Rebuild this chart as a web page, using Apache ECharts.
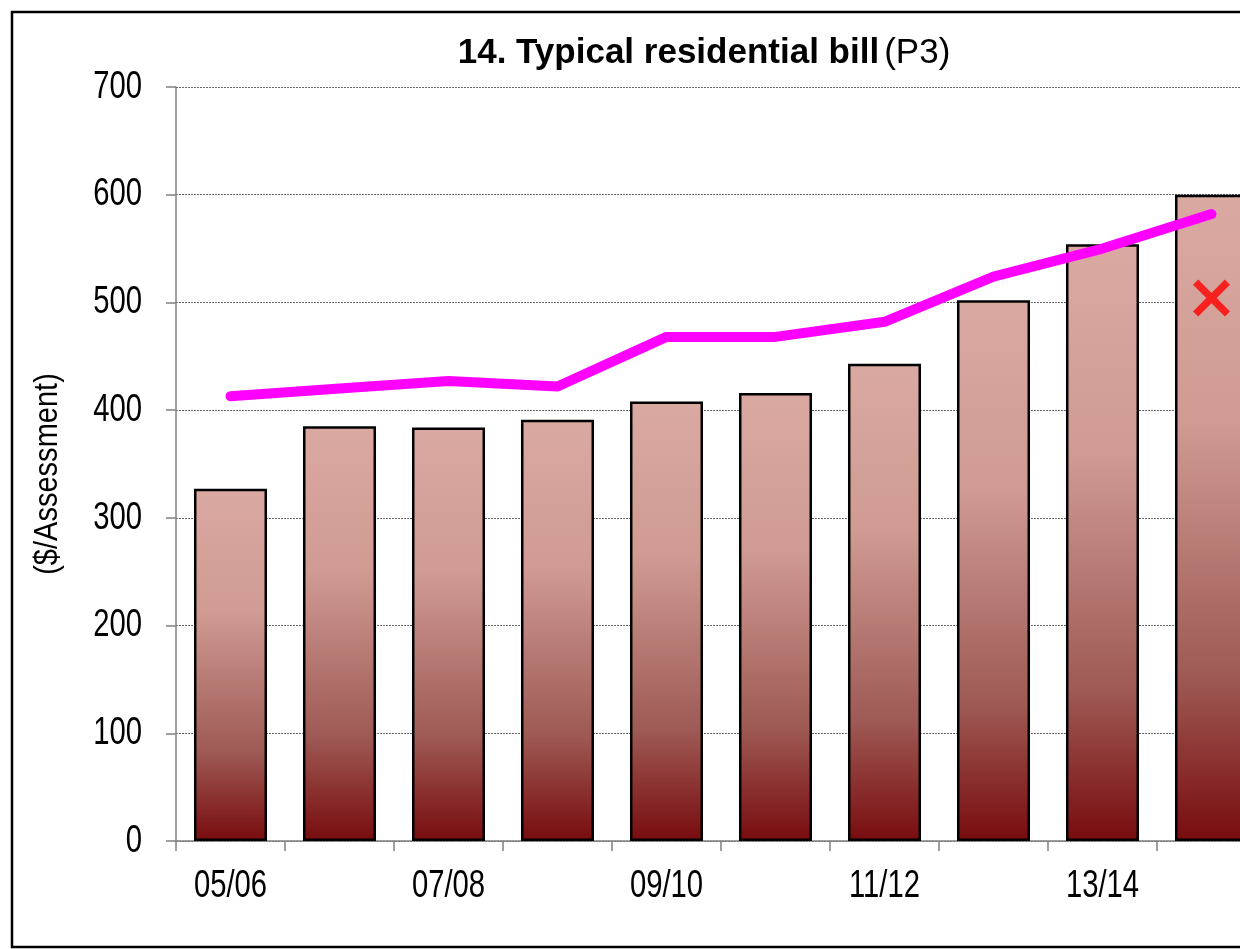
<!DOCTYPE html>
<html>
<head>
<meta charset="utf-8">
<script src="https://cdn.jsdelivr.net/npm/echarts@6/dist/echarts.min.js"></script>
<style>
  html, body { margin: 0; padding: 0; background: #ffffff; overflow: hidden; }
  #chart { width: 1266px; height: 949px; }
</style>
</head>
<body>
<div id="chart"></div>
<script>
// Financial years shown on the category axis
const years = ['05/06', '06/07', '07/08', '08/09', '09/10', '10/11', '11/12', '12/13', '13/14', '14/15'];
// Typical residential bill ($/Assessment)
const billValues = [327, 385, 384, 391, 408, 416, 443, 502, 554, 600];
// Comparison line
const lineValues = [413, 420, 427, 422, 468, 468, 482, 524, 550, 582];
// Single flagged value shown with a cross
const crossValues = [null, null, null, null, null, null, null, null, null, 504];
// Value axis ticks
const yTicks = { min: 0, max: 700, interval: 100 };
const yAxisName = '($/Assessment)';

const FONT = "'Liberation Sans', Arial, sans-serif";
// Narrow-face look: regular sans glyphs squeezed horizontally
const NARROW = 0.75;
const crossPath = 'path://M14,0 L50,36 L86,0 L100,14 L64,50 L100,86 L86,100 L50,64 L14,100 L0,86 L36,50 L0,14 Z';

const chart = echarts.init(document.getElementById('chart'), null, { renderer: 'canvas' });

chart.setOption({
  backgroundColor: '#ffffff',
  animation: false,
  title: {
    text: '{b|14. Typical residential bill} {n|(P3)}',
    left: 699,
    top: 31,
    textAlign: 'center',
    textStyle: {
      rich: {
        b: { fontFamily: FONT, fontSize: 35, fontWeight: 'bold', color: '#000' },
        n: { fontFamily: FONT, fontSize: 35, fontWeight: 'normal', color: '#000' }
      }
    }
  },
  grid: { left: 176, top: 87, bottom: 108, right: 0, containLabel: false },
  xAxis: {
    type: 'category',
    data: years,
    boundaryGap: true,
    axisLine: { lineStyle: { color: '#808080', width: 1.5 } },
    axisTick: { show: true, interval: 0, length: 10, alignWithLabel: false, lineStyle: { color: '#808080', width: 1.5 } },
    axisLabel: { show: false }
  },
  yAxis: {
    type: 'value',
    min: yTicks.min,
    max: yTicks.max,
    interval: yTicks.interval,
    axisLine: { show: true, lineStyle: { color: '#808080', width: 1.5 } },
    axisTick: { show: true, length: 10, lineStyle: { color: '#808080', width: 1.5 } },
    axisLabel: { show: false },
    splitLine: { show: true, lineStyle: { color: '#666', width: 1, type: [2, 1] } }
  },
  series: [
    {
      name: 'Typical residential bill',
      type: 'bar',
      data: billValues,
      barWidth: '67%',
      itemStyle: {
        borderColor: '#000',
        borderWidth: 2.5,
        color: new echarts.graphic.LinearGradient(0, 0, 0, 1, [
          { offset: 0, color: '#DAA9A1' },
          { offset: 0.35, color: '#CF9B93' },
          { offset: 0.75, color: '#9E5954' },
          { offset: 1, color: '#780C0E' }
        ])
      },
      z: 2
    },
    {
      name: 'Comparison',
      type: 'line',
      data: lineValues,
      symbol: 'none',
      lineStyle: { color: '#FF00FF', width: 10, cap: 'round', join: 'round' },
      z: 5
    },
    {
      name: 'Flag',
      type: 'scatter',
      data: crossValues,
      symbol: crossPath,
      symbolSize: 37,
      itemStyle: { color: '#FF0000' },
      z: 6
    }
  ]
});

// Outer frame plus axis labels in a condensed face, placed at the axes' own tick positions
const elements = [{
  type: 'rect',
  shape: { x: 12, y: 12, width: 1300, height: 935 },
  style: { fill: 'none', stroke: '#000', lineWidth: 2.5 },
  z: 100
}];

const axisY = chart.convertToPixel({ yAxisIndex: 0 }, yTicks.min);
const gridLeft = 176;

for (let v = yTicks.min; v <= yTicks.max; v += yTicks.interval) {
  const py = chart.convertToPixel({ yAxisIndex: 0 }, v);
  elements.push({
    type: 'text',
    x: gridLeft - 34,
    y: py,
    scaleX: NARROW,
    style: { text: String(v), fontFamily: FONT, fontSize: 39, fill: '#000', textAlign: 'right', textVerticalAlign: 'middle' },
    z: 50
  });
}

years.forEach(function (label, i) {
  if (i % 2 !== 0) return;
  const px = chart.convertToPixel({ xAxisIndex: 0 }, label);
  elements.push({
    type: 'text',
    x: px,
    y: axisY + 45,
    scaleX: NARROW,
    style: { text: label, fontFamily: FONT, fontSize: 39, fill: '#000', textAlign: 'center', textVerticalAlign: 'middle' },
    z: 50
  });
});

const midY = (chart.convertToPixel({ yAxisIndex: 0 }, yTicks.min) + chart.convertToPixel({ yAxisIndex: 0 }, yTicks.max)) / 2;
elements.push({
  type: 'text',
  x: 48,
  y: midY + 10,
  rotation: Math.PI / 2,
  scaleX: 0.88,
  style: { text: yAxisName, fontFamily: FONT, fontSize: 33, fill: '#000', textAlign: 'center', textVerticalAlign: 'middle' },
  z: 50
});

chart.setOption({ graphic: { elements: elements } });
</script>
</body>
</html>
